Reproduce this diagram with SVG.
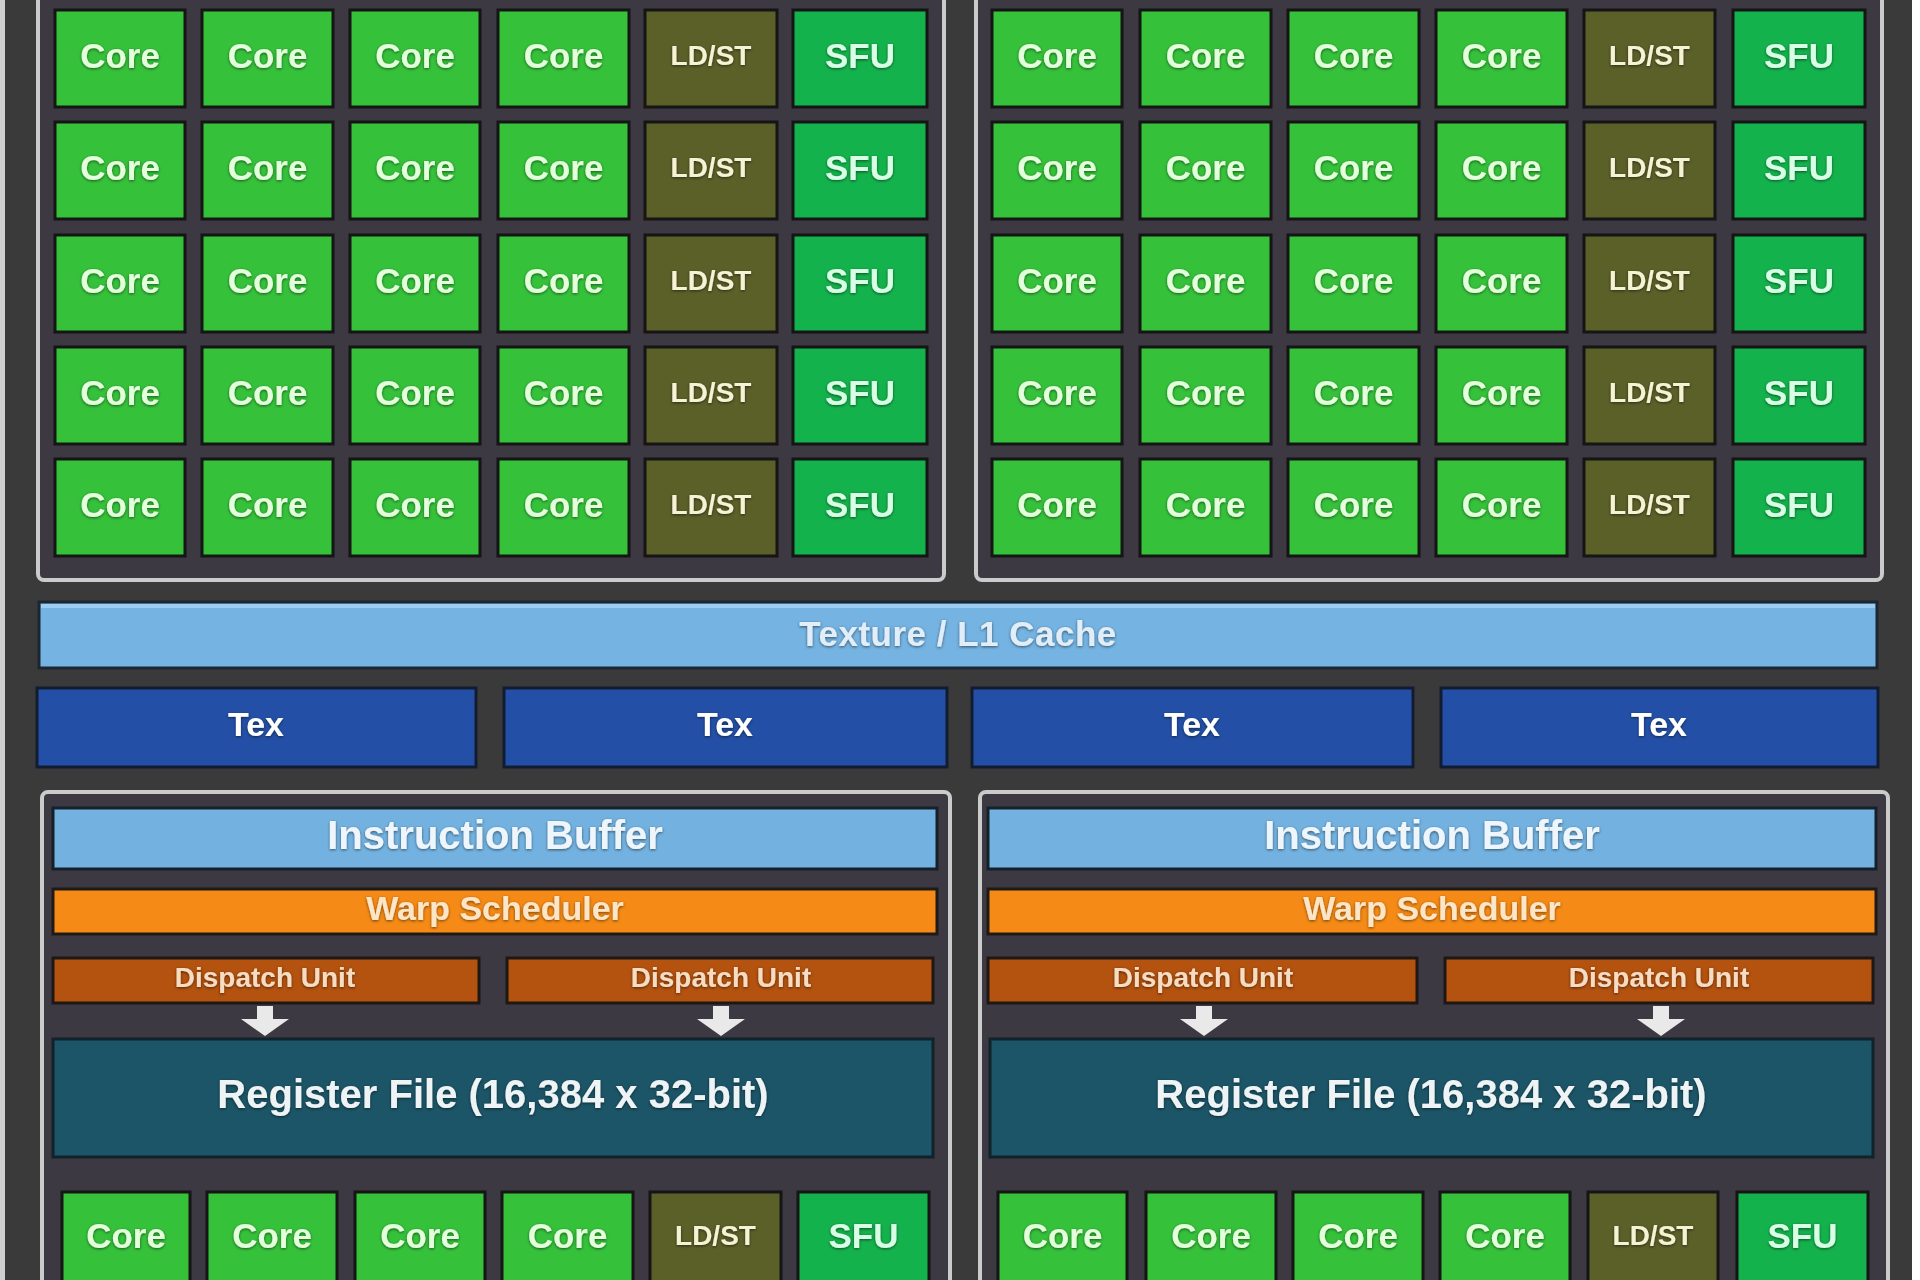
<svg xmlns="http://www.w3.org/2000/svg" xmlns:xlink="http://www.w3.org/1999/xlink" width="1920" height="1280" viewBox="0 0 1920 1280">
<defs>
<filter id="ts" x="-10%" y="-30%" width="120%" height="160%">
<feGaussianBlur in="SourceAlpha" stdDeviation="1.4" result="b"/>
<feOffset dx="0" dy="1" result="o"/>
<feFlood flood-color="#000" flood-opacity="0.55"/>
<feComposite in2="o" operator="in" result="s"/>
<feMerge><feMergeNode in="s"/><feMergeNode in="SourceGraphic"/></feMerge>
</filter>
<path id="arrow" d="M-8 0 h16 v13 h16 l-24 17 l-24 -17 h16 z"/>
</defs>
<style>
text{font-family:"Liberation Sans",Arial,sans-serif;font-weight:bold;text-anchor:middle;dominant-baseline:central;filter:url(#ts)}
.panel{fill:#3d3942;stroke:#cbcbcb;stroke-width:4}
.core{fill:#36c13b;stroke:#151515;stroke-width:3}
.ldst{fill:#5b6029;stroke:#151515;stroke-width:3}
.sfu{fill:#14b24d;stroke:#151515;stroke-width:3}
.tc{fill:#e4ffdc;font-size:35px}
.tl{fill:#f6f2d4;font-size:28px}
.tsf{fill:#d8ffe6;font-size:35px}
.cache{fill:#74b3e2;stroke:#1b2630;stroke-width:3}
.tex{fill:#2350a6;stroke:#121c30;stroke-width:3}
.ttex{fill:#ffffff;font-size:34px}
.ib{fill:#73b2e0;stroke:#14202a;stroke-width:3}
.tib{fill:#eef5fb;font-size:40px}
.ws{fill:#f58a16;stroke:#1e1a16;stroke-width:3}
.tws{fill:#fde6c8;font-size:34px}
.du{fill:#b4520f;stroke:#1e1814;stroke-width:3}
.tdu{fill:#f7dcc4;font-size:28px}
.rf{fill:#1c5567;stroke:#10222a;stroke-width:3}
.trf{fill:#eef4f6;font-size:40px}
.arr{fill:#e9e9e9}
</style>
<rect x="0" y="0" width="1920" height="1280" fill="#3a3a3b"/>
<rect x="0" y="0" width="5" height="1280" fill="#cfcfcf"/>
<rect x="1912" y="0" width="8" height="1280" fill="#ffffff"/>

<g id="sm-upper-left"><rect class="panel" x="38" y="-20" width="906" height="600" rx="6"/></g>
<g id="sm-upper-right"><rect class="panel" x="976" y="-20" width="906" height="600" rx="6"/></g>

<g id="ul-r1-core1"><rect class="core" x="55" y="10" width="130" height="97"/><text class="tc" x="120" y="55.5">Core</text></g>
<g id="ul-r1-core2"><rect class="core" x="202" y="10" width="131" height="97"/><text class="tc" x="267.5" y="55.5">Core</text></g>
<g id="ul-r1-core3"><rect class="core" x="350" y="10" width="130" height="97"/><text class="tc" x="415" y="55.5">Core</text></g>
<g id="ul-r1-core4"><rect class="core" x="498" y="10" width="131" height="97"/><text class="tc" x="563.5" y="55.5">Core</text></g>
<g id="ul-r1-ldst"><rect class="ldst" x="645" y="10" width="132" height="97"/><text class="tl" x="711" y="55.5">LD/ST</text></g>
<g id="ul-r1-sfu"><rect class="sfu" x="793" y="10" width="134" height="97"/><text class="tsf" x="860" y="55.5">SFU</text></g>

<g id="ul-r2-core1"><rect class="core" x="55" y="122" width="130" height="97"/><text class="tc" x="120" y="167.5">Core</text></g>
<g id="ul-r2-core2"><rect class="core" x="202" y="122" width="131" height="97"/><text class="tc" x="267.5" y="167.5">Core</text></g>
<g id="ul-r2-core3"><rect class="core" x="350" y="122" width="130" height="97"/><text class="tc" x="415" y="167.5">Core</text></g>
<g id="ul-r2-core4"><rect class="core" x="498" y="122" width="131" height="97"/><text class="tc" x="563.5" y="167.5">Core</text></g>
<g id="ul-r2-ldst"><rect class="ldst" x="645" y="122" width="132" height="97"/><text class="tl" x="711" y="167.5">LD/ST</text></g>
<g id="ul-r2-sfu"><rect class="sfu" x="793" y="122" width="134" height="97"/><text class="tsf" x="860" y="167.5">SFU</text></g>

<g id="ul-r3-core1"><rect class="core" x="55" y="235" width="130" height="97"/><text class="tc" x="120" y="280.5">Core</text></g>
<g id="ul-r3-core2"><rect class="core" x="202" y="235" width="131" height="97"/><text class="tc" x="267.5" y="280.5">Core</text></g>
<g id="ul-r3-core3"><rect class="core" x="350" y="235" width="130" height="97"/><text class="tc" x="415" y="280.5">Core</text></g>
<g id="ul-r3-core4"><rect class="core" x="498" y="235" width="131" height="97"/><text class="tc" x="563.5" y="280.5">Core</text></g>
<g id="ul-r3-ldst"><rect class="ldst" x="645" y="235" width="132" height="97"/><text class="tl" x="711" y="280.5">LD/ST</text></g>
<g id="ul-r3-sfu"><rect class="sfu" x="793" y="235" width="134" height="97"/><text class="tsf" x="860" y="280.5">SFU</text></g>

<g id="ul-r4-core1"><rect class="core" x="55" y="347" width="130" height="97"/><text class="tc" x="120" y="392.5">Core</text></g>
<g id="ul-r4-core2"><rect class="core" x="202" y="347" width="131" height="97"/><text class="tc" x="267.5" y="392.5">Core</text></g>
<g id="ul-r4-core3"><rect class="core" x="350" y="347" width="130" height="97"/><text class="tc" x="415" y="392.5">Core</text></g>
<g id="ul-r4-core4"><rect class="core" x="498" y="347" width="131" height="97"/><text class="tc" x="563.5" y="392.5">Core</text></g>
<g id="ul-r4-ldst"><rect class="ldst" x="645" y="347" width="132" height="97"/><text class="tl" x="711" y="392.5">LD/ST</text></g>
<g id="ul-r4-sfu"><rect class="sfu" x="793" y="347" width="134" height="97"/><text class="tsf" x="860" y="392.5">SFU</text></g>

<g id="ul-r5-core1"><rect class="core" x="55" y="459" width="130" height="97"/><text class="tc" x="120" y="504.5">Core</text></g>
<g id="ul-r5-core2"><rect class="core" x="202" y="459" width="131" height="97"/><text class="tc" x="267.5" y="504.5">Core</text></g>
<g id="ul-r5-core3"><rect class="core" x="350" y="459" width="130" height="97"/><text class="tc" x="415" y="504.5">Core</text></g>
<g id="ul-r5-core4"><rect class="core" x="498" y="459" width="131" height="97"/><text class="tc" x="563.5" y="504.5">Core</text></g>
<g id="ul-r5-ldst"><rect class="ldst" x="645" y="459" width="132" height="97"/><text class="tl" x="711" y="504.5">LD/ST</text></g>
<g id="ul-r5-sfu"><rect class="sfu" x="793" y="459" width="134" height="97"/><text class="tsf" x="860" y="504.5">SFU</text></g>

<g id="ur-r1-core1"><rect class="core" x="992" y="10" width="130" height="97"/><text class="tc" x="1057" y="55.5">Core</text></g>
<g id="ur-r1-core2"><rect class="core" x="1140" y="10" width="131" height="97"/><text class="tc" x="1205.5" y="55.5">Core</text></g>
<g id="ur-r1-core3"><rect class="core" x="1288" y="10" width="131" height="97"/><text class="tc" x="1353.5" y="55.5">Core</text></g>
<g id="ur-r1-core4"><rect class="core" x="1436" y="10" width="131" height="97"/><text class="tc" x="1501.5" y="55.5">Core</text></g>
<g id="ur-r1-ldst"><rect class="ldst" x="1584" y="10" width="131" height="97"/><text class="tl" x="1649.5" y="55.5">LD/ST</text></g>
<g id="ur-r1-sfu"><rect class="sfu" x="1733" y="10" width="132" height="97"/><text class="tsf" x="1799" y="55.5">SFU</text></g>

<g id="ur-r2-core1"><rect class="core" x="992" y="122" width="130" height="97"/><text class="tc" x="1057" y="167.5">Core</text></g>
<g id="ur-r2-core2"><rect class="core" x="1140" y="122" width="131" height="97"/><text class="tc" x="1205.5" y="167.5">Core</text></g>
<g id="ur-r2-core3"><rect class="core" x="1288" y="122" width="131" height="97"/><text class="tc" x="1353.5" y="167.5">Core</text></g>
<g id="ur-r2-core4"><rect class="core" x="1436" y="122" width="131" height="97"/><text class="tc" x="1501.5" y="167.5">Core</text></g>
<g id="ur-r2-ldst"><rect class="ldst" x="1584" y="122" width="131" height="97"/><text class="tl" x="1649.5" y="167.5">LD/ST</text></g>
<g id="ur-r2-sfu"><rect class="sfu" x="1733" y="122" width="132" height="97"/><text class="tsf" x="1799" y="167.5">SFU</text></g>

<g id="ur-r3-core1"><rect class="core" x="992" y="235" width="130" height="97"/><text class="tc" x="1057" y="280.5">Core</text></g>
<g id="ur-r3-core2"><rect class="core" x="1140" y="235" width="131" height="97"/><text class="tc" x="1205.5" y="280.5">Core</text></g>
<g id="ur-r3-core3"><rect class="core" x="1288" y="235" width="131" height="97"/><text class="tc" x="1353.5" y="280.5">Core</text></g>
<g id="ur-r3-core4"><rect class="core" x="1436" y="235" width="131" height="97"/><text class="tc" x="1501.5" y="280.5">Core</text></g>
<g id="ur-r3-ldst"><rect class="ldst" x="1584" y="235" width="131" height="97"/><text class="tl" x="1649.5" y="280.5">LD/ST</text></g>
<g id="ur-r3-sfu"><rect class="sfu" x="1733" y="235" width="132" height="97"/><text class="tsf" x="1799" y="280.5">SFU</text></g>

<g id="ur-r4-core1"><rect class="core" x="992" y="347" width="130" height="97"/><text class="tc" x="1057" y="392.5">Core</text></g>
<g id="ur-r4-core2"><rect class="core" x="1140" y="347" width="131" height="97"/><text class="tc" x="1205.5" y="392.5">Core</text></g>
<g id="ur-r4-core3"><rect class="core" x="1288" y="347" width="131" height="97"/><text class="tc" x="1353.5" y="392.5">Core</text></g>
<g id="ur-r4-core4"><rect class="core" x="1436" y="347" width="131" height="97"/><text class="tc" x="1501.5" y="392.5">Core</text></g>
<g id="ur-r4-ldst"><rect class="ldst" x="1584" y="347" width="131" height="97"/><text class="tl" x="1649.5" y="392.5">LD/ST</text></g>
<g id="ur-r4-sfu"><rect class="sfu" x="1733" y="347" width="132" height="97"/><text class="tsf" x="1799" y="392.5">SFU</text></g>

<g id="ur-r5-core1"><rect class="core" x="992" y="459" width="130" height="97"/><text class="tc" x="1057" y="504.5">Core</text></g>
<g id="ur-r5-core2"><rect class="core" x="1140" y="459" width="131" height="97"/><text class="tc" x="1205.5" y="504.5">Core</text></g>
<g id="ur-r5-core3"><rect class="core" x="1288" y="459" width="131" height="97"/><text class="tc" x="1353.5" y="504.5">Core</text></g>
<g id="ur-r5-core4"><rect class="core" x="1436" y="459" width="131" height="97"/><text class="tc" x="1501.5" y="504.5">Core</text></g>
<g id="ur-r5-ldst"><rect class="ldst" x="1584" y="459" width="131" height="97"/><text class="tl" x="1649.5" y="504.5">LD/ST</text></g>
<g id="ur-r5-sfu"><rect class="sfu" x="1733" y="459" width="132" height="97"/><text class="tsf" x="1799" y="504.5">SFU</text></g>

<g id="texture-l1-cache"><rect class="cache" x="39" y="602" width="1838" height="66"/><rect x="41" y="604" width="1834" height="4" fill="#9ccdf3"/><text x="958" y="633" style="fill:#e2eef7;font-size:35px;letter-spacing:0.5px">Texture / L1 Cache</text></g>

<g id="tex-1"><rect class="tex" x="37" y="688" width="439" height="79"/><text class="ttex" x="256" y="724">Tex</text></g>
<g id="tex-2"><rect class="tex" x="504" y="688" width="443" height="79"/><text class="ttex" x="725" y="724">Tex</text></g>
<g id="tex-3"><rect class="tex" x="972" y="688" width="441" height="79"/><text class="ttex" x="1192" y="724">Tex</text></g>
<g id="tex-4"><rect class="tex" x="1441" y="688" width="437" height="79"/><text class="ttex" x="1659" y="724">Tex</text></g>

<g id="sm-lower-left"><rect class="panel" x="42" y="792" width="908" height="520" rx="6"/></g>
<g id="sm-lower-right"><rect class="panel" x="980" y="792" width="908" height="520" rx="6"/></g>

<g id="ib-left"><rect class="ib" x="53" y="808" width="884" height="61"/><text class="tib" x="495" y="835">Instruction Buffer</text></g>
<g id="ws-left"><rect class="ws" x="53" y="889" width="884" height="45"/><text class="tws" x="495" y="908">Warp Scheduler</text></g>
<g id="du-left-1"><rect class="du" x="53" y="958" width="426" height="45"/><text class="tdu" x="265" y="977">Dispatch Unit</text></g>
<g id="du-left-2"><rect class="du" x="507" y="958" width="426" height="45"/><text class="tdu" x="721" y="977">Dispatch Unit</text></g>
<g id="rf-left"><rect class="rf" x="53" y="1039" width="880" height="118"/><text class="trf" x="493" y="1094">Register File (16,384 x 32-bit)</text></g>

<g id="ib-right"><rect class="ib" x="988" y="808" width="888" height="61"/><text class="tib" x="1432" y="835">Instruction Buffer</text></g>
<g id="ws-right"><rect class="ws" x="988" y="889" width="888" height="45"/><text class="tws" x="1432" y="908">Warp Scheduler</text></g>
<g id="du-right-1"><rect class="du" x="988" y="958" width="429" height="45"/><text class="tdu" x="1203" y="977">Dispatch Unit</text></g>
<g id="du-right-2"><rect class="du" x="1445" y="958" width="428" height="45"/><text class="tdu" x="1659" y="977">Dispatch Unit</text></g>
<g id="rf-right"><rect class="rf" x="990" y="1039" width="883" height="118"/><text class="trf" x="1431" y="1094">Register File (16,384 x 32-bit)</text></g>

<g id="ll-core1"><rect class="core" x="62" y="1192" width="128" height="100"/><text class="tc" x="126" y="1235">Core</text></g>
<g id="ll-core2"><rect class="core" x="207" y="1192" width="130" height="100"/><text class="tc" x="272" y="1235">Core</text></g>
<g id="ll-core3"><rect class="core" x="355" y="1192" width="130" height="100"/><text class="tc" x="420" y="1235">Core</text></g>
<g id="ll-core4"><rect class="core" x="502" y="1192" width="131" height="100"/><text class="tc" x="567.5" y="1235">Core</text></g>
<g id="ll-ldst"><rect class="ldst" x="650" y="1192" width="131" height="100"/><text class="tl" x="715.5" y="1235">LD/ST</text></g>
<g id="ll-sfu"><rect class="sfu" x="798" y="1192" width="131" height="100"/><text class="tsf" x="863.5" y="1235">SFU</text></g>

<g id="lr-core1"><rect class="core" x="998" y="1192" width="129" height="100"/><text class="tc" x="1062.5" y="1235">Core</text></g>
<g id="lr-core2"><rect class="core" x="1146" y="1192" width="130" height="100"/><text class="tc" x="1211" y="1235">Core</text></g>
<g id="lr-core3"><rect class="core" x="1293" y="1192" width="130" height="100"/><text class="tc" x="1358" y="1235">Core</text></g>
<g id="lr-core4"><rect class="core" x="1440" y="1192" width="130" height="100"/><text class="tc" x="1505" y="1235">Core</text></g>
<g id="lr-ldst"><rect class="ldst" x="1588" y="1192" width="130" height="100"/><text class="tl" x="1653" y="1235">LD/ST</text></g>
<g id="lr-sfu"><rect class="sfu" x="1737" y="1192" width="131" height="100"/><text class="tsf" x="1802.5" y="1235">SFU</text></g>

<g id="connectors">
<use href="#arrow" xlink:href="#arrow" class="arr" x="265" y="1006"/>
<use href="#arrow" xlink:href="#arrow" class="arr" x="721" y="1006"/>
<use href="#arrow" xlink:href="#arrow" class="arr" x="1204" y="1006"/>
<use href="#arrow" xlink:href="#arrow" class="arr" x="1661" y="1006"/>
</g>
</svg>
